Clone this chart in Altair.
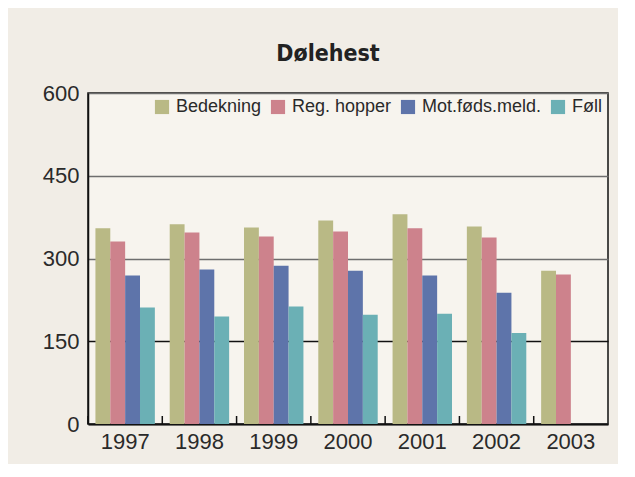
import altair as alt
import pandas as pd

years = ["1997", "1998", "1999", "2000", "2001", "2002", "2003"]
series = ["Bedekning", "Reg. hopper", "Mot.føds.meld.", "Føll"]
bedekning = [355, 362, 356, 369, 380, 358, 278]
reg_hopper = [331, 347, 340, 349, 355, 338, 271]
mot_fods = [269, 280, 287, 278, 269, 238, None]
foll = [211, 195, 213, 198, 200, 165, None]
colors = ["#b9b985", "#cd828c", "#5e74aa", "#6bb0b5"]
y_ticks = [0, 150, 300, 450, 600]

rows = []
for name, vals in zip(series, [bedekning, reg_hopper, mot_fods, foll]):
    for yr, v in zip(years, vals):
        if v is not None:
            rows.append({"year": yr, "series": name, "value": v})
df = pd.DataFrame(rows)
tick_df = pd.DataFrame({"year": years})

FONT = "Liberation Sans"

xscale = alt.Scale(domain=years, paddingInner=0, paddingOuter=0)

bars = alt.Chart(df).mark_bar().encode(
    x=alt.X("year:N", scale=xscale, sort=years,
            axis=alt.Axis(title=None, labelAngle=0, ticks=False, labelPadding=7,
                          labelFontSize=22, labelColor="#2a2a2a", labelFont=FONT,
                          domainColor="#111", domainWidth=2)),
    xOffset=alt.XOffset("series:N", sort=series,
                        scale=alt.Scale(domain=series, paddingInner=0, paddingOuter=0.5)),
    y=alt.Y("value:Q", scale=alt.Scale(domain=[0, 600], nice=False),
            axis=alt.Axis(title=None, values=y_ticks, ticks=False, labelPadding=9,
                          labelFontSize=22, labelColor="#2a2a2a", labelFont=FONT,
                          domainColor="#111", domainWidth=1.5,
                          grid=True,
                          gridColor={"condition": {"test": "datum.value === 150", "value": "#111"},
                                     "value": "#6e6e6e"},
                          gridWidth=1.5)),
    color=alt.Color("series:N", sort=series,
                    scale=alt.Scale(domain=series, range=colors),
                    legend=alt.Legend(title=None, orient="none", direction="horizontal",
                                      legendX=65, legendY=5, symbolType="square",
                                      symbolSize=200, symbolStrokeWidth=0,
                                      labelFontSize=18, labelFont=FONT, labelColor="#2a2a2a",
                                      labelOffset=5, columnPadding=7)),
)

ticks = alt.Chart(tick_df).mark_rule(color="#111", strokeWidth=1.5).encode(
    x=alt.X("year:N", scale=xscale, sort=years, bandPosition=0),
    y=alt.value(331),
    y2=alt.value(323),
)

chart = alt.layer(bars, ticks).properties(
    width=520,
    height=331,
    padding={"left": 80, "top": 85, "right": 10, "bottom": 40},
    autosize=alt.AutoSizeParams(type="none"),
    background="#f1ede6",
    title=alt.TitleParams("Dølehest", font="DejaVu Sans Condensed", fontSize=23,
                          fontWeight="bold", color="#222", anchor="middle",
                          dx=-20, offset=16),
).configure_view(
    fill="#f7f4ee", stroke="#111", strokeWidth=1.5
)

chart.save("out.html", embed_options={"renderer": "svg", "actions": False})
